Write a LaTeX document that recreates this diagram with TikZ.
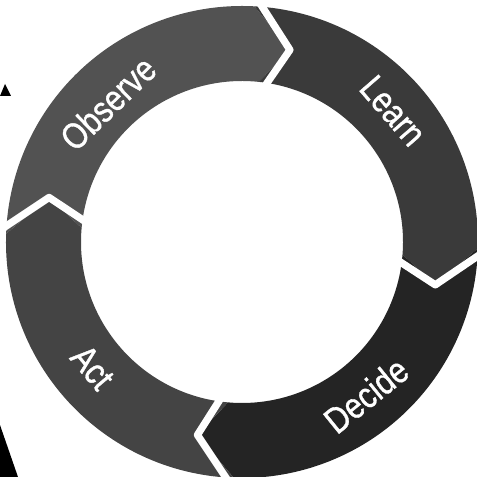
\documentclass[tikz,border=0pt]{standalone}
\usepackage{fontspec}
\usepackage{tikz}
\usetikzlibrary{positioning,calc}
\newfontfamily\ringfont[FakeStretch=0.84,FakeBold=0.9]{Liberation Sans}
\definecolor{ObsGray}{RGB}{82,82,82}
\definecolor{LrnGray}{RGB}{58,58,58}
\definecolor{DecGray}{RGB}{36,36,36}
\definecolor{ActGray}{RGB}{68,68,68}
\tikzset{
	seg/.style={draw=none},
	gap/.style={draw=white,line width=5.2pt,line join=round,line cap=butt},
	lbl/.style={text=white,font=\ringfont\fontsize{26}{30}\selectfont,inner sep=0pt},
}

\begin{document}
\begin{tikzpicture}[x=0.025cm,y=0.025cm]
			\useasboundingbox (-242,-235) rectangle (235,242);
			% four arrow segments, clockwise
			\fill[seg,ObsGray] (178:236) arc[start angle=178,end angle=87,radius=236] -- (76:198)
				-- (84:161) arc[start angle=84,end angle=175,radius=161] -- (167:198) -- cycle;
			\fill[seg,LrnGray] (87:236) arc[start angle=87,end angle=-1.5,radius=236] -- (-12.5:198)
				-- (-4.5:161) arc[start angle=-4.5,end angle=84,radius=161] -- (76:198) -- cycle;
			\fill[seg,DecGray] (-1.5:236) arc[start angle=-1.5,end angle=-92,radius=236] -- (-103:198)
				-- (-95:161) arc[start angle=-95,end angle=-4.5,radius=161] -- (-12.5:198) -- cycle;
			\fill[seg,ActGray] (-92:236) arc[start angle=-92,end angle=-182,radius=236] -- (-193:198)
				-- (-185:161) arc[start angle=-185,end angle=-95,radius=161] -- (-103:198) -- cycle;
			% white chevron gaps
			\draw[gap] (87.5:250) -- (76:198) -- (83.5:148);
			\draw[gap] (-1:250) -- (-12.5:198) -- (-5:148);
			\draw[gap] (-91.5:250) -- (-103:198) -- (-96:148);
			\draw[gap] (178.5:250) -- (167:198) -- (174.5:148);
			% labels
			\node[lbl,rotate=44] (observe) at (134:193) {Observe};
			\node[lbl,rotate=-49] (learn) at (41:200) {Learn};
			\node[lbl,rotate=39] (decide) at (-51:197) {Decide};
			\node[lbl,rotate=-50] (act) at (-140:195) {Act};
			% scan remnants at the left edge
			\fill[black] (-242,-183) -- (-224,-235) -- (-242,-235) -- cycle;
			\fill[black] (-242,146) -- (-231,146) -- (-237,158) -- cycle;
		\end{tikzpicture}
\end{document}
